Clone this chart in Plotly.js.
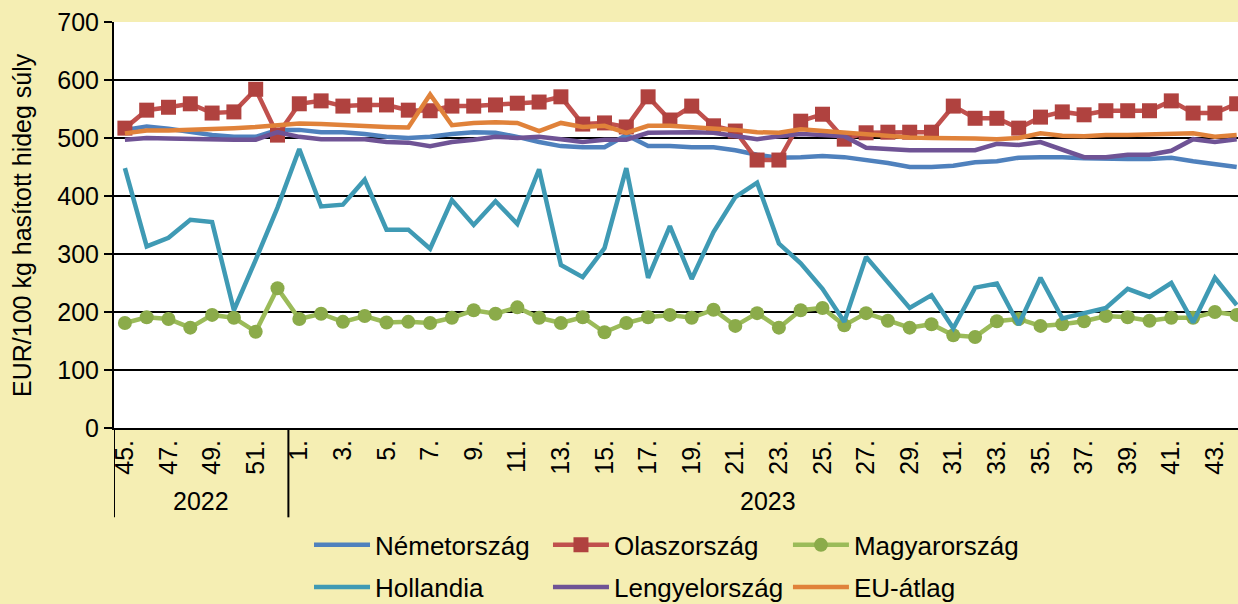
<!DOCTYPE html>
<html>
<head>
<meta charset="utf-8">
<script src="https://cdn.plot.ly/plotly-3.0.1.min.js"></script>
<style>
html,body{margin:0;padding:0;overflow:hidden;background:#F5EEB3;}
#chart{width:1238px;height:604px;}
</style>
</head>
<body>
<div id="chart"></div>
<script>
// Weeks: 2022 week 45-52, 2023 week 1-44
const weeks = ["45.","46.","47.","48.","49.","50.","51.","52.",
  "1.","2.","3.","4.","5.","6.","7.","8.","9.","10.","11.","12.","13.","14.","15.","16.","17.","18.","19.","20.","21.","22.",
  "23.","24.","25.","26.","27.","28.","29.","30.","31.","32.","33.","34.","35.","36.","37.","38.","39.","40.","41.","42.","43.","44."];
const years = ["2022","2023"];
const yearWeekCounts = [8,44];

const nemetorszag = [514,520,516,510,505,502,502,514,514,510,510,507,502,500,502,507,510,509,502,493,486,484,484,505,486,486,484,484,479,471,466,467,469,467,462,457,450,450,452,458,460,466,467,467,465,464,464,464,466,460,455,450];
const olaszorszag = [517,548,553,559,543,545,584,505,559,564,555,557,557,548,547,555,555,557,560,562,571,524,526,519,571,531,555,521,512,462,462,529,541,498,509,510,510,510,555,534,534,517,536,545,540,547,547,547,564,543,543,559];
const magyarorszag = [181,191,188,173,195,190,166,241,188,197,183,193,182,183,181,190,203,197,208,190,181,191,165,181,191,195,190,204,176,198,173,203,207,177,198,185,173,179,160,157,184,188,176,179,184,193,191,185,190,190,200,195];
const hollandia = [448,313,328,359,355,203,290,380,481,382,385,428,342,342,309,393,350,391,352,446,281,260,310,448,259,348,257,338,398,423,318,284,240,183,295,252,207,229,172,242,249,178,259,189,198,207,240,226,250,182,259,212];
const lengyelorszag = [497,500,499,498,497,497,497,510,502,498,498,498,493,492,486,493,497,502,500,502,498,493,497,497,509,510,510,509,503,498,503,507,505,503,483,481,479,479,479,479,490,488,493,481,467,467,471,471,478,498,493,498];
const euAtlag = [508,513,513,514,515,517,519,522,525,524,522,521,519,518,575,522,526,527,526,512,526,519,521,509,521,521,519,517,514,510,509,515,512,510,507,503,501,500,500,499,498,500,508,504,503,505,505,506,507,508,502,505];

const seriesNames = ["Németország","Olaszország","Magyarország","Hollandia","Lengyelország","EU-átlag"];
const yTitle = "EUR/100 kg hasított hideg súly";

const LW = 4.5;
const traces = [
  {name: seriesNames[0], y: nemetorszag, mode:"lines", line:{color:"#4F81BD", width:LW}, legend:"legend"},
  {name: seriesNames[1], y: olaszorszag, mode:"lines+markers", line:{color:"#C0504D", width:LW}, marker:{symbol:"square", size:15, color:"#B0423F"}, legend:"legend2"},
  {name: seriesNames[2], y: magyarorszag, mode:"lines+markers", line:{color:"#9BBB59", width:LW}, marker:{symbol:"circle", size:14, color:"#8BAB4A"}, legend:"legend3"},
  {name: seriesNames[3], y: hollandia, mode:"lines", line:{color:"#3F9AB4", width:LW}, legend:"legend4"},
  {name: seriesNames[4], y: lengyelorszag, mode:"lines", line:{color:"#6F5395", width:LW}, legend:"legend5"},
  {name: seriesNames[5], y: euAtlag, mode:"lines", line:{color:"#E0823A", width:LW}, legend:"legend6"}
].map(t => Object.assign({x: weeks, type:"scatter"}, t));

const tickvals = weeks.filter((w,i) => i % 2 === 0);

// Year group dividers and labels
const shapes = [];
const annotations = [];
let start = 0;
years.forEach((yr, k) => {
  const n = yearWeekCounts[k];
  shapes.push({type:"line", xref:"x", yref:"paper", x0:start-0.5, x1:start-0.5, y0:0, y1:-0.22, line:{color:"black", width:2}});
  annotations.push({xref:"x", yref:"paper", x:start+(n-1)/2, y:-0.18, text:yr, showarrow:false, yanchor:"middle", font:{size:25, color:"black"}});
  start += n;
});
// y-axis title placed as a rotated annotation
annotations.push({xref:"paper", yref:"paper", x:-0.0819, y:0.5, xanchor:"center", yanchor:"middle",
  text:yTitle, textangle:-90, showarrow:false, font:{size:25, color:"black"}});

const font = "Liberation Sans, Arial, sans-serif";
const legendBase = {orientation:"h", xanchor:"left", yanchor:"middle", itemwidth:56,
    bgcolor:"rgba(0,0,0,0)", font:{size:26, color:"black"}};
const colX = [0.1735, 0.3861, 0.5996];
const rowY = [-0.288, -0.392];
const legends = {};
["legend","legend2","legend3","legend4","legend5","legend6"].forEach((id, i) => {
  legends[id] = Object.assign({}, legendBase, {x: colX[i % 3], y: rowY[Math.floor(i / 3)]});
});

const layout = Object.assign({
  width:1238, height:604,
  margin:{l:114, r:0, t:22, b:176, autoexpand:false},
  paper_bgcolor:"#F5EEB3",
  plot_bgcolor:"#FFFFFF",
  font:{family:font, color:"black"},
  xaxis:{
    type:"category",
    categoryorder:"array", categoryarray: weeks,
    range:[-0.5, 51.06],
    tickmode:"array", tickvals: tickvals, ticktext: tickvals,
    tickangle:-90,
    tickfont:{size:25, color:"black"},
    ticks:"", showgrid:false,
    showline:true, linecolor:"black", linewidth:2,
    zeroline:false, fixedrange:true, automargin:false
  },
  yaxis:{
    range:[0,700], dtick:100, tick0:0,
    tickfont:{size:25, color:"black"},
    ticks:"outside", ticklen:8, tickwidth:2, tickcolor:"black",
    showgrid:true, gridcolor:"black", gridwidth:2,
    showline:true, linecolor:"black", linewidth:2,
    zeroline:false, automargin:false
  },
  shapes: shapes,
  annotations: annotations,
  showlegend:true
}, legends);

Plotly.newPlot("chart", traces, layout, {displayModeBar:false, staticPlot:true});
</script>
</body>
</html>
